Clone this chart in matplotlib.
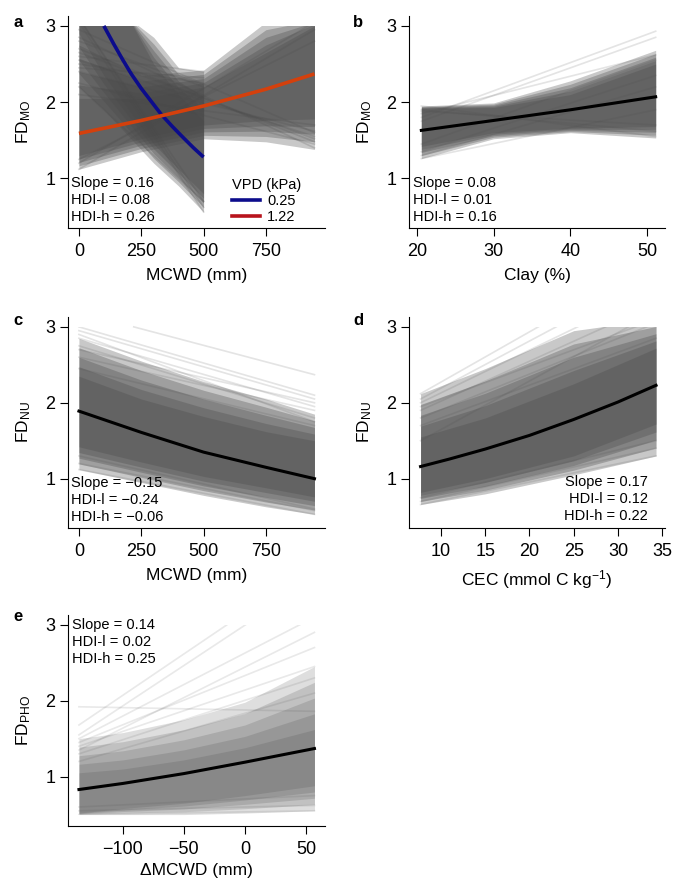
import matplotlib
matplotlib.use('Agg')
import matplotlib.pyplot as plt
from matplotlib.lines import Line2D
from matplotlib.patches import Rectangle

plt.rcParams['font.family'] = ['Liberation Sans', 'DejaVu Sans']
plt.rcParams['mathtext.fontset'] = 'custom'
plt.rcParams['mathtext.rm'] = 'Liberation Sans'
plt.rcParams['mathtext.it'] = 'Liberation Sans:italic'
plt.rcParams['mathtext.bf'] = 'Liberation Sans:bold'

GREY = '#4a4a4a'

# ---- panel a: FD_MO vs MCWD, two VPD levels ----
a_hi_x = [0, 250, 500, 750, 945]                 # VPD = 1.22
a_hi_mean = [1.59, 1.76, 1.95, 2.17, 2.37]
a_hi_core_lo = [1.30, 1.52, 1.70, 1.76, 1.78]
a_hi_core_hi = [2.05, 2.05, 2.20, 2.65, 3.00]
a_hi_out_lo = [1.12, 1.35, 1.52, 1.48, 1.38]
a_hi_out_hi = [2.75, 2.35, 2.42, 3.05, 3.10]
a_hi_draws = [(2.85, 1.40), (2.70, 1.48), (2.55, 1.55), (2.40, 1.62),
              (2.25, 1.45), (1.12, 2.95), (1.20, 3.05), (1.25, 2.80),
              (2.10, 1.70), (2.95, 1.60), (2.65, 1.52)]

a_lo_x = [0, 100, 200, 300, 400, 500]            # VPD = 0.25
a_lo_mean_x = [100, 140, 175, 210, 250, 290, 330, 375, 420, 460, 500]
a_lo_mean = [3.0, 2.76, 2.56, 2.37, 2.18, 2.01, 1.84, 1.68, 1.53, 1.40, 1.28]
a_lo_core_lo = [2.90, 2.35, 1.90, 1.45, 1.12, 0.80]
a_lo_core_hi = [3.10, 3.10, 3.10, 2.50, 2.10, 1.75]
a_lo_out_lo = [2.20, 1.90, 1.55, 1.20, 0.90, 0.56]
a_lo_out_hi = [3.10, 3.10, 3.10, 2.85, 2.45, 2.40]
a_lo_draws = [(3.05, 0.56), (3.10, 0.62), (2.60, 2.40), (2.50, 2.25),
              (2.80, 2.20), (2.20, 0.70), (2.45, 2.32), (3.10, 0.70)]

# ---- panel b: FD_MO vs clay ----
b_x = [20.6, 30, 40, 51.1]
b_mean = [1.63, 1.76, 1.90, 2.07]
b_core_lo = [1.42, 1.60, 1.66, 1.68]
b_core_hi = [1.92, 1.93, 2.10, 2.50]
b_out_lo = [1.26, 1.52, 1.60, 1.53]
b_out_hi = [1.95, 1.99, 2.28, 2.68]
b_draws = [(1.80, 2.93), (1.75, 2.85), (1.85, 2.62), (1.30, 2.20),
           (1.26, 1.90), (1.95, 1.55), (1.90, 1.62), (1.45, 2.55),
           (1.88, 1.70), (1.35, 2.35)]

# ---- panel c: FD_NU vs MCWD ----
c_x = [0, 250, 500, 750, 945]
c_mean = [1.89, 1.61, 1.35, 1.15, 1.00]
c_core_lo = [1.42, 1.22, 1.03, 0.88, 0.76]
c_core_hi = [2.35, 2.05, 1.82, 1.62, 1.50]
c_out_lo = [1.12, 0.95, 0.78, 0.63, 0.53]
c_out_hi = [2.85, 2.55, 2.28, 2.05, 1.85]
c_draws = [(3.00, 2.10), (2.95, 2.05), (2.85, 1.95), (2.75, 1.80),
           (2.60, 1.90), (2.45, 1.70), (1.12, 0.53), (1.20, 0.58),
           (2.90, 1.75), (2.70, 2.00), (1.30, 0.60)]
c_outlier_x = [220, 945]
c_outlier_y = [3.00, 2.37]

# ---- panel d: FD_NU vs CEC ----
d_x = [7.7, 15, 25, 34.3]
d_mean_x = [7.7, 11, 15, 20, 25, 30, 34.3]
d_mean = [1.16, 1.26, 1.39, 1.57, 1.78, 2.01, 2.23]
d_core_lo = [0.82, 1.00, 1.30, 1.72]
d_core_hi = [1.55, 1.80, 2.25, 2.72]
d_out_lo = [0.66, 0.80, 1.05, 1.30]
d_out_hi = [2.12, 2.45, 2.95, 3.10]
d_draws = [(2.12, 3.88), (2.00, 3.50), (1.90, 3.30), (1.80, 3.05),
           (1.70, 2.85), (0.66, 1.30), (0.70, 1.40), (0.75, 1.50),
           (1.50, 3.20), (2.05, 3.70), (1.95, 3.10)]

# ---- panel e: FD_PHO vs delta MCWD ----
e_x = [-136, -100, -50, 0, 57]
e_mean = [0.83, 0.91, 1.04, 1.19, 1.37]
e_core_lo = [0.52, 0.58, 0.65, 0.75, 0.88]
e_core_hi = [1.05, 1.10, 1.22, 1.38, 1.62]
e_out_lo = [0.50, 0.50, 0.50, 0.52, 0.55]
e_out_hi = [1.50, 1.58, 1.75, 1.98, 2.45]
e_draws = [(1.68, 3.78), (1.92, 1.86), (1.50, 3.10), (1.45, 2.70),
           (1.40, 2.45), (1.30, 2.30), (1.20, 2.10), (0.50, 0.55),
           (0.55, 0.62), (0.60, 0.75), (1.55, 3.60), (1.35, 2.90)]


def clip_box(ax):
    x0, x1 = ax.get_xlim()
    return Rectangle((x0, 0.5), x1 - x0, 2.5, transform=ax.transData)


def draw_band(ax, x, out_lo, core_lo, core_hi, out_hi, clip,
              a_out=0.3, target=0.85, n=4):
    # soft-edged band: outer envelope, then steps toward the core envelope
    poly = ax.fill_between(x, out_lo, out_hi, color=GREY, alpha=a_out, lw=0)
    poly.set_clip_path(clip)
    a_step = 1 - ((1 - target) / (1 - a_out)) ** (1 / n)
    for k in range(1, n + 1):
        f = k / n
        lo = [o + (c - o) * f for o, c in zip(out_lo, core_lo)]
        hi = [o + (c - o) * f for o, c in zip(out_hi, core_hi)]
        poly = ax.fill_between(x, lo, hi, color=GREY, alpha=a_step, lw=0)
        poly.set_clip_path(clip)


def draw_lines(ax, x0, x1, pairs, clip, alpha=0.2):
    for y0, y1 in pairs:
        ln, = ax.plot([x0, x1], [y0, y1], color=GREY, alpha=alpha, lw=1.2)
        ln.set_clip_path(clip)


def style(ax, xlim, xticks, xlabel, ylabel):
    ax.set_xlim(*xlim)
    ax.set_ylim(0.35, 3.13)
    ax.set_xticks(xticks)
    ax.set_yticks([1, 2, 3])
    for s in ['top', 'right']:
        ax.spines[s].set_visible(False)
    for s in ['left', 'bottom']:
        ax.spines[s].set_linewidth(0.8)
    ax.tick_params(direction='out', length=5.5, width=0.8, labelsize=13)
    ax.tick_params(axis='x', pad=5)
    ax.tick_params(axis='y', pad=3.5)
    ax.set_xlabel(xlabel, fontsize=12.5, labelpad=6)
    ax.set_ylabel(ylabel, fontsize=12.5, labelpad=9)


fig = plt.figure(figsize=(6.75, 8.83), dpi=100)
ax_a = fig.add_axes([0.1007, 0.7418, 0.3807, 0.2401])
ax_b = fig.add_axes([0.606, 0.7418, 0.379, 0.2401])
ax_c = fig.add_axes([0.1007, 0.402, 0.3807, 0.239])
ax_d = fig.add_axes([0.606, 0.402, 0.379, 0.239])
ax_e = fig.add_axes([0.1007, 0.0646, 0.3807, 0.239])

style(ax_a, (-44, 987), [0, 250, 500, 750], 'MCWD (mm)', 'FD$_{\\mathrm{MO}}$')
style(ax_b, (19.0, 52.3), [20, 30, 40, 50], 'Clay (%)', 'FD$_{\\mathrm{MO}}$')
style(ax_c, (-44, 987), [0, 250, 500, 750], 'MCWD (mm)', 'FD$_{\\mathrm{NU}}$')
style(ax_d, (6.4, 35.3), [10, 15, 20, 25, 30, 35], 'CEC (mmol C kg$^{-1}$)', 'FD$_{\\mathrm{NU}}$')
style(ax_e, (-145, 65.6), [-100, -50, 0, 50], '\u0394MCWD (mm)', 'FD$_{\\mathrm{PHO}}$')
ax_e.xaxis.labelpad = 4

# panel a
clip = clip_box(ax_a)
draw_band(ax_a, a_hi_x, a_hi_out_lo, a_hi_core_lo, a_hi_core_hi, a_hi_out_hi, clip)
draw_band(ax_a, a_lo_x, a_lo_out_lo, a_lo_core_lo, a_lo_core_hi, a_lo_out_hi, clip)
draw_lines(ax_a, a_hi_x[0], a_hi_x[-1], a_hi_draws, clip)
draw_lines(ax_a, a_lo_x[0], a_lo_x[-1], a_lo_draws, clip)
ax_a.plot(a_lo_mean_x, a_lo_mean, color='#0c0c8c', lw=2.6, solid_capstyle='butt')
ax_a.plot(a_hi_x, a_hi_mean, color='#d4400c', lw=2.6, solid_capstyle='butt')
handles = [Line2D([], [], color='#0c0c8c', lw=2.6),
           Line2D([], [], color='#b8141c', lw=2.6)]
leg = ax_a.legend(handles, ['0.25', '1.22'], title='VPD (kPa)', fontsize=10.5,
                  title_fontsize=10.5, frameon=False, loc='lower left',
                  bbox_to_anchor=(0.6, -0.03), handlelength=1.9,
                  handletextpad=0.5, labelspacing=0.15, borderpad=0.2,
                  alignment='left')
ax_a.text(0.012, 0.02, 'Slope = 0.16\nHDI-l = 0.08\nHDI-h = 0.26',
          transform=ax_a.transAxes, fontsize=10.5, va='bottom', ha='left',
          linespacing=1.25)

# panel b
clip = clip_box(ax_b)
draw_band(ax_b, b_x, b_out_lo, b_core_lo, b_core_hi, b_out_hi, clip)
draw_lines(ax_b, b_x[0], b_x[-1], b_draws, clip, alpha=0.15)
ax_b.plot(b_x, b_mean, color='black', lw=2.2)
ax_b.text(0.016, 0.02, 'Slope = 0.08\nHDI-l = 0.01\nHDI-h = 0.16',
          transform=ax_b.transAxes, fontsize=10.5, va='bottom', ha='left',
          linespacing=1.25)

# panel c
clip = clip_box(ax_c)
draw_band(ax_c, c_x, c_out_lo, c_core_lo, c_core_hi, c_out_hi, clip)
draw_lines(ax_c, c_x[0], c_x[-1], c_draws, clip, alpha=0.15)
ax_c.plot(c_outlier_x, c_outlier_y, color=GREY, alpha=0.15, lw=1.2)
ax_c.plot(c_x, c_mean, color='black', lw=2.2)
ax_c.text(0.012, 0.02, 'Slope = \u22120.15\nHDI-l = \u22120.24\nHDI-h = \u22120.06',
          transform=ax_c.transAxes, fontsize=10.5, va='bottom', ha='left',
          linespacing=1.25)

# panel d
clip = clip_box(ax_d)
draw_band(ax_d, d_x, d_out_lo, d_core_lo, d_core_hi, d_out_hi, clip)
draw_lines(ax_d, d_x[0], d_x[-1], d_draws, clip, alpha=0.15)
ax_d.plot(d_mean_x, d_mean, color='black', lw=2.2)
ax_d.text(0.934, 0.024, 'Slope = 0.17\nHDI-l = 0.12\nHDI-h = 0.22',
          transform=ax_d.transAxes, fontsize=10.5, va='bottom', ha='right',
          multialignment='right', linespacing=1.25)

# panel e
clip = clip_box(ax_e)
draw_band(ax_e, e_x, e_out_lo, e_core_lo, e_core_hi, e_out_hi, clip,
          a_out=0.18, target=0.65)
draw_lines(ax_e, e_x[0], e_x[-1], e_draws, clip, alpha=0.12)
ax_e.plot(e_x, e_mean, color='black', lw=2.2)
ax_e.text(0.016, 0.985, 'Slope = 0.14\nHDI-l = 0.02\nHDI-h = 0.25',
          transform=ax_e.transAxes, fontsize=10.5, va='top', ha='left',
          linespacing=1.25)

# panel letters
for lab, xp, yp in [('a', 13, 27), ('b', 353, 27), ('c', 13, 325),
                    ('d', 353, 325), ('e', 13, 621)]:
    fig.text(xp / 675, 1 - yp / 883, lab, fontsize=12, fontweight='bold',
             va='baseline', ha='left')

fig.savefig('out.png', dpi=100)
